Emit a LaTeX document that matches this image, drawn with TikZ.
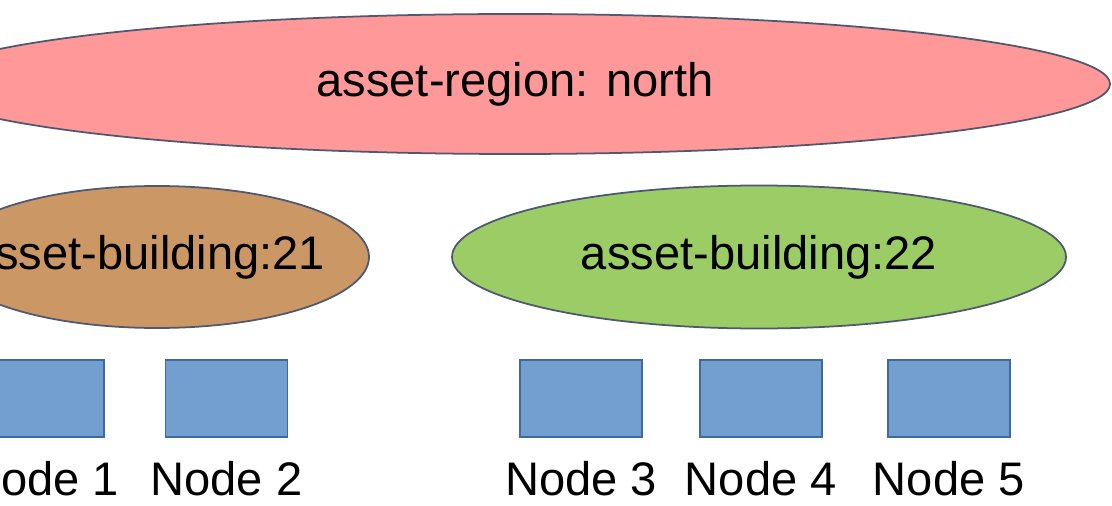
\documentclass[tikz,border=0pt]{standalone}
\usepackage{fontspec}
\setmainfont{Liberation Sans}
\usetikzlibrary{positioning,shapes.geometric}
\definecolor{regionred}{RGB}{255,153,153}
\definecolor{buildbrown}{RGB}{203,151,101}
\definecolor{buildgreen}{RGB}{155,204,102}
\definecolor{boxblue}{RGB}{114,159,207}
\definecolor{boxrim}{RGB}{62,106,160}
\definecolor{rimgray}{RGB}{78,88,112}

\begin{document}
\begin{tikzpicture}[
node distance=0pt,
 zone/.style = {ellipse, draw=rimgray, line width=0.5pt,% asset levels
                inner sep=0pt},
 host/.style = {rectangle, draw=boxrim, fill=boxblue, line width=0.4pt,
                minimum width=1.22cm, minimum height=0.77cm, inner sep=0pt},
  tag/.style = {inner sep=0pt},
 font=\fontsize{13.4}{16}\selectfont
                    ]
\useasboundingbox (0,0) rectangle (11.12,5.05);
\node (R)   [zone, fill=regionred, minimum width=11.90cm, minimum height=1.40cm] at (5.15,4.21) {asset-region: north};
\node (B21) [zone, fill=buildbrown, minimum width=4.24cm, minimum height=1.42cm] at (1.57,2.48) {};
\node (T21) [tag] at ([xshift=-1mm] B21.center) {asset-building:21};
\node (B22) [zone, fill=buildgreen, minimum width=6.14cm, minimum height=1.43cm] at (7.59,2.48) {asset-building:22};
% nodes under each building
\node (N1) [host] at (0.43,1.065) {};
\node (N2) [host, right=0.60cm of N1] {};
\node (N3) [host] at (5.81,1.065) {};
\node (N4) [host, right=0.565cm of N3] {};
\node (N5) [host, right=0.645cm of N4] {};
\foreach \i in {1,...,5}% <-- names under the boxes
    \node (L\i) [tag, below=2.3mm of N\i] {Node \i};
\end{tikzpicture}
\end{document}
